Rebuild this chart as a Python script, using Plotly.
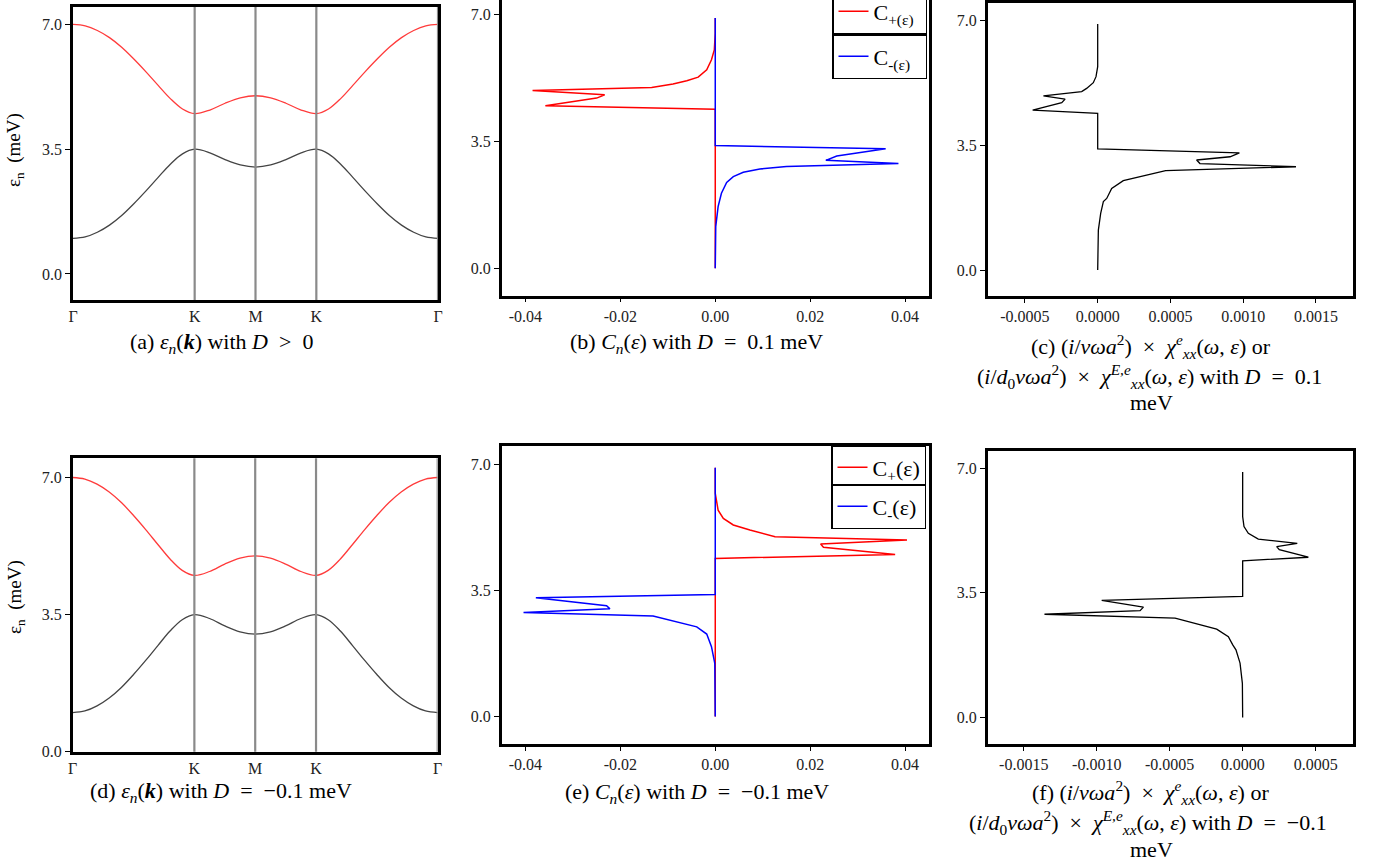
import plotly.graph_objects as go

W, H = 1384, 865

# ---------------- data ----------------
# band structure along Gamma-K-M-K-Gamma (path coordinate, Gamma-K = 2 units)
k_path = [0.0, 0.2, 0.4, 0.6, 0.8, 1.0, 1.2, 1.4, 1.6, 1.8, 2.0, 2.25, 2.5, 2.75, 3.0,
          3.25, 3.5, 3.75, 4.0, 4.2, 4.4, 4.6, 4.8, 5.0, 5.2, 5.4, 5.6, 5.8, 6.0]
band_upper = [7.00, 6.96, 6.83, 6.63, 6.36, 6.03, 5.67, 5.29, 4.92, 4.63, 4.50, 4.60, 4.79, 4.94, 5.00,
              4.94, 4.79, 4.60, 4.50, 4.63, 4.92, 5.29, 5.67, 6.03, 6.36, 6.63, 6.83, 6.96, 7.00]
band_lower = [1.00, 1.04, 1.17, 1.37, 1.64, 1.97, 2.33, 2.71, 3.08, 3.37, 3.50, 3.40, 3.21, 3.06, 3.00,
              3.06, 3.21, 3.40, 3.50, 3.37, 3.08, 2.71, 2.33, 1.97, 1.64, 1.37, 1.17, 1.04, 1.00]
k_tickvals = [0, 2, 3, 4, 6]
k_ticktext = ["Γ", "K", "M", "K", "Γ"]

# C_n(eps), D = 0.1 meV
cp_b_x = [0, 0, -0.0002, -0.0008, -0.0018, -0.0036, -0.0060, -0.0089, -0.0134, -0.0385, -0.0233, -0.0250, -0.0358, 0, 0]
cp_b_y = [6.91, 6.49, 6.03, 5.76, 5.48, 5.28, 5.18, 5.09, 4.99, 4.91, 4.79, 4.70, 4.49, 4.39, 0.0]
cm_b_x = [0, 0, 0.0359, 0.0256, 0.0233, 0.0386, 0.0150, 0.0094, 0.0059, 0.0038, 0.0024, 0.0013, 0.0006, 0.0001, 0]
cm_b_y = [6.91, 3.39, 3.30, 3.10, 2.98, 2.89, 2.81, 2.74, 2.65, 2.53, 2.37, 2.07, 1.70, 1.15, 0.0]

# C_n(eps), D = -0.1 meV
cp_e_x = [0, 0, 0.0006, 0.0017, 0.0038, 0.0073, 0.0126, 0.0404, 0.0222, 0.0228, 0.0379, 0, 0]
cp_e_y = [6.91, 6.20, 5.73, 5.50, 5.32, 5.18, 4.99, 4.90, 4.79, 4.70, 4.50, 4.39, 0.0]
cm_e_x = [0, 0, -0.0378, -0.0229, -0.0222, -0.0404, -0.0131, -0.0039, -0.0018, -0.0008, -0.0001, 0]
cm_e_y = [6.91, 3.39, 3.30, 3.08, 2.99, 2.89, 2.79, 2.49, 2.29, 1.94, 1.48, 0.0]

# chi_xx, D = 0.1 meV
chi_c_x = [0, 0, -0.0000115, -0.00003, -0.000076, -0.00011, -0.000373, -0.000224, -0.000247, -0.000447,
           0, 0, 0.000974, 0.00091, 0.00068, 0.000703, 0.001363, 0.000467, 0.000176, 0.0000962,
           0.000062, 0.000039, 0.0000206, 0.0000046, 0]
chi_c_y = [6.91, 5.71, 5.43, 5.26, 5.10, 5.01, 4.89, 4.80, 4.70, 4.49,
           4.40, 3.40, 3.29, 3.18, 3.09, 2.99, 2.90, 2.79, 2.51, 2.29,
           2.01, 1.92, 1.59, 1.12, 0.0]

# chi_xx, D = -0.1 meV
chi_f_x = [0, 0, 0.0000091, 0.0000388, 0.000107, 0.000374, 0.000233, 0.000251, 0.00045, 0,
           0, -0.000966, -0.00068, -0.000703, -0.001358, -0.000463, -0.000178, -0.000098,
           -0.000068, -0.000046, -0.000018, -0.000002, 0]
chi_f_y = [6.89, 5.64, 5.36, 5.17, 5.01, 4.89, 4.80, 4.71, 4.50, 4.40,
           3.40, 3.29, 3.10, 3.00, 2.90, 2.79, 2.48, 2.27,
           2.04, 1.90, 1.53, 0.96, 0.0]

e_tickvals = [0.0, 3.5, 7.0]
e_ticktext = ["0.0", "3.5", "7.0"]
c_tickvals = [-0.04, -0.02, 0.0, 0.02, 0.04]
c_ticktext = ["-0.04", "-0.02", "0.00", "0.02", "0.04"]
chi_c_tickvals = [-0.0005, 0.0, 0.0005, 0.0010, 0.0015]
chi_c_ticktext = ["-0.0005", "0.0000", "0.0005", "0.0010", "0.0015"]
chi_f_tickvals = [-0.0015, -0.0010, -0.0005, 0.0, 0.0005]
chi_f_ticktext = ["-0.0015", "-0.0010", "-0.0005", "0.0000", "0.0005"]

# ---------------- layout helpers ----------------
SERIF = "Liberation Serif"
FRAME = 2.5

def dom_x(a, b):
    return [a / W, b / W]

def dom_y(top, bottom):
    return [max(0.0, 1 - bottom / H), min(1.0, 1 - top / H)]

panels = {
    1: dict(x=(73, 438), y=(7, 300), xr=[0, 6], yr=[-0.73, 7.49]),
    2: dict(x=(501.7, 929.3), y=(0, 295.7), xr=[-0.045, 0.0451], yr=[-0.76, 7.41]),
    3: dict(x=(987.7, 1353.3), y=(3.3, 296), xr=[-0.000756, 0.001757], yr=[-0.73, 7.49]),
    4: dict(x=(72.7, 437.7), y=(458.3, 751.7), xr=[0, 6], yr=[0, 7.49]),
    5: dict(x=(501.7, 929.3), y=(445.7, 744.3), xr=[-0.045, 0.0451], yr=[-0.77, 7.52]),
    6: dict(x=(987.7, 1353.3), y=(450.7, 744.3), xr=[-0.001747, 0.000758], yr=[-0.75, 7.49]),
}
xticks = {
    1: (k_tickvals, k_ticktext), 4: (k_tickvals, k_ticktext),
    2: (c_tickvals, c_ticktext), 5: (c_tickvals, c_ticktext),
    3: (chi_c_tickvals, chi_c_ticktext), 6: (chi_f_tickvals, chi_f_ticktext),
}

fig = go.Figure()

def ax(i):
    return ("x" if i == 1 else f"x{i}"), ("y" if i == 1 else f"y{i}")

# ---------------- traces ----------------
for i in (1, 4):
    xa, ya = ax(i)
    fig.add_trace(go.Scatter(x=k_path, y=band_upper, mode="lines", line=dict(color="#ff3b3b", width=1.3, shape="spline"),
                             xaxis=xa, yaxis=ya, showlegend=False))
    fig.add_trace(go.Scatter(x=k_path, y=band_lower, mode="lines", line=dict(color="#444444", width=1.3, shape="spline"),
                             xaxis=xa, yaxis=ya, showlegend=False))

xa, ya = ax(2)
fig.add_trace(go.Scatter(x=cp_b_x, y=cp_b_y, mode="lines", line=dict(color="#ff0000", width=1.5),
                         xaxis=xa, yaxis=ya, name="C<sub>+(ε)</sub>", legend="legend"))
fig.add_trace(go.Scatter(x=cm_b_x, y=cm_b_y, mode="lines", line=dict(color="#0000ff", width=1.5),
                         xaxis=xa, yaxis=ya, name="C<sub>-(ε)</sub>", legend="legend2"))
xa, ya = ax(5)
fig.add_trace(go.Scatter(x=cp_e_x, y=cp_e_y, mode="lines", line=dict(color="#ff0000", width=1.5),
                         xaxis=xa, yaxis=ya, name="C<sub>+</sub>(ε)", legend="legend3"))
fig.add_trace(go.Scatter(x=cm_e_x, y=cm_e_y, mode="lines", line=dict(color="#0000ff", width=1.5),
                         xaxis=xa, yaxis=ya, name="C<sub>-</sub>(ε)", legend="legend4"))
xa, ya = ax(3)
fig.add_trace(go.Scatter(x=chi_c_x, y=chi_c_y, mode="lines", line=dict(color="#000000", width=1.3),
                         xaxis=xa, yaxis=ya, showlegend=False))
xa, ya = ax(6)
fig.add_trace(go.Scatter(x=chi_f_x, y=chi_f_y, mode="lines", line=dict(color="#000000", width=1.3),
                         xaxis=xa, yaxis=ya, showlegend=False))

# ---------------- axes ----------------
layout = {}
for i, p in panels.items():
    xname = "xaxis" if i == 1 else f"xaxis{i}"
    yname = "yaxis" if i == 1 else f"yaxis{i}"
    xa, ya = ax(i)
    tv, tt = xticks[i]
    band = i in (1, 4)
    layout[xname] = dict(
        domain=dom_x(*p["x"]), range=p["xr"], anchor=ya,
        showgrid=False, zeroline=False, showline=True, linecolor="black", linewidth=FRAME,
        mirror=(i != 2), tickvals=tv, ticktext=tt,
        ticks="" if band else "outside", ticklen=0 if band else 4, tickwidth=1, tickcolor="black",
        tickfont=dict(family=SERIF, size=16, color="#222222"), fixedrange=True, automargin=False,
    )
    layout[yname] = dict(
        domain=dom_y(*p["y"]), range=p["yr"], anchor=xa,
        showgrid=False, zeroline=False, showline=True, linecolor="black", linewidth=FRAME,
        mirror=True, tickvals=e_tickvals, ticktext=e_ticktext,
        ticks="outside", ticklen=5, tickwidth=1.2, tickcolor="black",
        tickfont=dict(family=SERIF, size=16, color="#222222"), fixedrange=True, automargin=False,
    )

# gray vertical lines at high-symmetry points
shapes = []
for i in (1, 4):
    xa, ya = ax(i)
    for kx in (2, 3, 4, 6):
        shapes.append(dict(type="line", xref=xa, yref=f"{ya} domain", x0=kx, x1=kx, y0=0, y1=1,
                           line=dict(color="#8a8a8a", width=2.2), layer="above"))

# legends (one boxed entry each)
leg_common = dict(bgcolor="white", bordercolor="black", borderwidth=1.5,
                  font=dict(family=SERIF, size=22, color="black"), xanchor="right",
                  itemwidth=30, tracegroupgap=0, orientation="h",
                  entrywidth=47, entrywidthmode="pixels")
layout["legend"] = dict(leg_common, x=927 / W, y=1 - 34 / H, yanchor="bottom")
layout["legend2"] = dict(leg_common, x=927 / W, y=1 - 34 / H, yanchor="top")
layout["legend3"] = dict(leg_common, x=926 / W, y=1 - 445 / H, yanchor="top")
layout["legend4"] = dict(leg_common, x=926 / W, y=1 - 484 / H, yanchor="top")

# captions and y titles
CAP = 22
SP = "\u2002"  # math-like spacing around relations / binary operators

def ann(text, cx, cy, size=CAP, angle=0):
    return dict(text=text, x=cx / W, y=1 - cy / H, xref="paper", yref="paper", showarrow=False,
                xanchor="center", yanchor="middle", textangle=angle,
                font=dict(family=SERIF, size=size, color="black"))

annotations = [
    ann("ε<sub>n</sub>  (meV)", 15, 150, 19, -90),
    ann("ε<sub>n</sub>  (meV)", 16, 597, 19, -90),
    ann(f"(a) <i>ε<sub>n</sub></i>(<b><i>k</i></b>) with <i>D</i>{SP}>{SP}0", 222, 343),
    ann(f"(b) <i>C<sub>n</sub></i>(<i>ε</i>) with <i>D</i>{SP}={SP}0.1 meV", 696, 343),
    ann(f"(c) (<i>i</i>/<i>νωa</i><sup>2</sup>){SP}×{SP}<i>χ</i><sup><i>e</i></sup><sub><i>xx</i></sub>(<i>ω</i>, <i>ε</i>) or", 1151, 346),
    ann(f"(<i>i</i>/<i>d</i><sub>0</sub><i>νωa</i><sup>2</sup>){SP}×{SP}<i>χ</i><sup><i>E,e</i></sup><sub><i>xx</i></sub>(<i>ω</i>, <i>ε</i>) with <i>D</i>{SP}={SP}0.1", 1149, 376),
    ann("meV", 1151, 403),
    ann(f"(d) <i>ε<sub>n</sub></i>(<b><i>k</i></b>) with <i>D</i>{SP}={SP}−0.1 meV", 221, 792),
    ann(f"(e) <i>C<sub>n</sub></i>(<i>ε</i>) with <i>D</i>{SP}={SP}−0.1 meV", 697, 793),
    ann(f"(f) (<i>i</i>/<i>νωa</i><sup>2</sup>){SP}×{SP}<i>χ</i><sup><i>e</i></sup><sub><i>xx</i></sub>(<i>ω</i>, <i>ε</i>) or", 1150, 792),
    ann(f"(<i>i</i>/<i>d</i><sub>0</sub><i>νωa</i><sup>2</sup>){SP}×{SP}<i>χ</i><sup><i>E,e</i></sup><sub><i>xx</i></sub>(<i>ω</i>, <i>ε</i>) with <i>D</i>{SP}={SP}−0.1", 1148, 822),
    ann("meV", 1151, 849),
]

fig.update_layout(
    width=W, height=H, margin=dict(l=0, r=0, t=0, b=0, autoexpand=False),
    paper_bgcolor="white", plot_bgcolor="white",
    shapes=shapes, annotations=annotations, **layout,
)

fig.write_html("out.html", config=dict(displayModeBar=False))
